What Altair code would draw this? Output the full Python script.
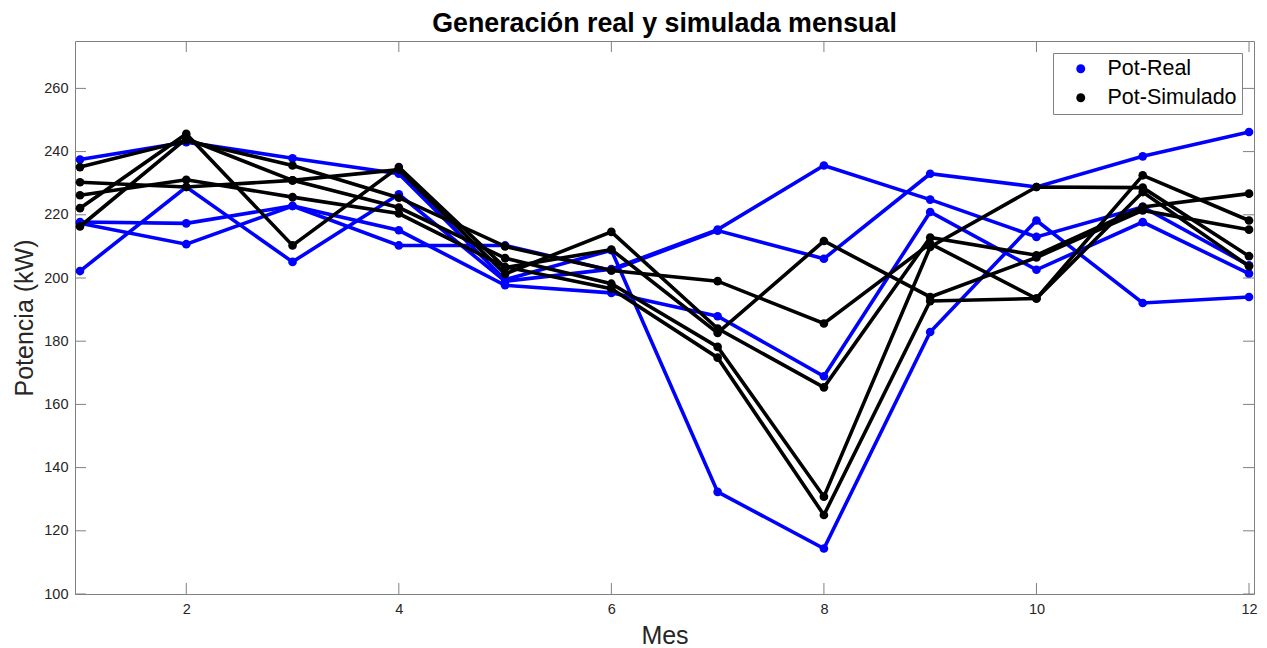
import altair as alt
import pandas as pd

# Meses del año
meses = list(range(1, 13))

# Potencia real medida (kW)
real_a = [217.3, 210.7, 222.8, 210.3, 210.3, 202.4, 215.0, 206.1, 233.0, 228.8, 238.5, 246.2]
real_b = [237.5, 243.0, 237.9, 233.0, 199.5, 208.8, 132.3, 114.4, 182.9, 218.2, 192.1, 194.0]
real_c = [202.2, 228.8, 205.1, 226.5, 199.0, 202.8, 215.3, 235.6, 224.8, 213.0, 222.5, 204.0]
real_d = [217.7, 217.3, 222.8, 215.1, 197.7, 195.3, 187.9, 168.9, 220.9, 202.6, 217.7, 201.4]

# Potencia simulada (kW)
sim_a = [235.1, 243.5, 235.6, 225.4, 210.0, 202.4, 199.0, 185.6, 210.9, 193.5, 232.5, 218.2]
sim_b = [230.3, 228.8, 230.9, 234.3, 201.3, 214.6, 184.0, 165.4, 212.8, 207.2, 222.5, 226.7]
sim_c = [226.2, 231.1, 225.6, 220.4, 203.5, 196.6, 174.8, 125.0, 192.7, 193.5, 227.2, 203.7]
sim_d = [222.1, 245.6, 210.3, 235.1, 203.3, 209.0, 182.6, 211.7, 194.0, 206.5, 221.4, 215.3]
sim_e = [216.3, 244.1, 230.9, 222.3, 206.3, 198.2, 178.2, 130.8, 209.8, 228.8, 228.6, 206.9]

# Marcas de los ejes
x_ticks = [2, 4, 6, 8, 10, 12]
y_ticks = [100, 120, 140, 160, 180, 200, 220, 240, 260]

tipos = ["Pot-Real", "Pot-Simulado"]
colores = ["#0000ff", "#000000"]

W, H = 1179, 553
FONT = "Liberation Sans"
AXIS_GRAY = "#808080"


def tabla(series, tipo):
    filas = []
    for nombre, valores in series:
        for m, v in zip(meses, valores):
            filas.append({"mes": m, "potencia": v, "tipo": tipo, "serie": nombre})
    return pd.DataFrame(filas)


df_real = tabla([("real_a", real_a), ("real_b", real_b),
                 ("real_c", real_c), ("real_d", real_d)], "Pot-Real")
df_sim = tabla([("sim_a", sim_a), ("sim_b", sim_b), ("sim_c", sim_c),
                ("sim_d", sim_d), ("sim_e", sim_e)], "Pot-Simulado")

x_scale = alt.Scale(domain=[0.953, 12.047], nice=False, zero=False)
y_scale = alt.Scale(domain=[100, 275], nice=False, zero=False)

x_enc = alt.X("mes:Q", scale=x_scale,
              axis=alt.Axis(values=x_ticks, title="Mes", labelPadding=8,
                            titlePadding=8))
y_enc = alt.Y("potencia:Q", scale=y_scale,
              axis=alt.Axis(values=y_ticks, title="Potencia (kW)",
                            labelPadding=7, titlePadding=6))

color_enc = alt.Color(
    "tipo:N",
    scale=alt.Scale(domain=tipos, range=colores),
    legend=alt.Legend(title=None, orient="top-right", symbolType="circle",
                      direction="vertical"),
)


def capa_lineas(df):
    return alt.Chart(df).mark_line(strokeWidth=3.6).encode(
        x=x_enc, y=y_enc, color=color_enc, detail="serie:N", order="mes:Q"
    )


def capa_puntos(df):
    return alt.Chart(df).mark_circle(size=75, opacity=1).encode(
        x=x_enc, y=y_enc, color=color_enc
    )


# Marcas interiores estilo "box on": abajo, arriba, izquierda y derecha
df_xt = pd.DataFrame({"mes": x_ticks})
df_yt = pd.DataFrame({"potencia": y_ticks})
tick_style = dict(color=AXIS_GRAY, strokeWidth=1)

ticks_abajo = alt.Chart(df_xt).mark_rule(**tick_style).encode(
    x=x_enc, y=alt.value(H), y2=alt.value(H - 11))
ticks_arriba = alt.Chart(df_xt).mark_rule(**tick_style).encode(
    x=x_enc, y=alt.value(0), y2=alt.value(11))
ticks_izq = alt.Chart(df_yt).mark_rule(**tick_style).encode(
    y=y_enc, x=alt.value(0), x2=alt.value(11))
ticks_der = alt.Chart(df_yt).mark_rule(**tick_style).encode(
    y=y_enc, x=alt.value(W), x2=alt.value(W - 11))

chart = alt.layer(
    capa_lineas(df_real),
    capa_puntos(df_real),
    capa_lineas(df_sim),
    capa_puntos(df_sim),
    ticks_abajo, ticks_arriba, ticks_izq, ticks_der,
).properties(
    width=W,
    height=H,
    title=alt.TitleParams("Generación real y simulada mensual", anchor="middle",
                          baseline="alphabetic", offset=9, dy=27),
    autosize=alt.AutoSizeParams(type="none"),
    padding={"left": 75, "top": 41, "right": 13, "bottom": 54},
).configure_view(
    stroke=AXIS_GRAY, strokeWidth=1
).configure_axis(
    labelFont=FONT, labelFontSize=14.5, labelColor="#262626",
    titleFont=FONT, titleFontSize=25, titleFontWeight="normal",
    titleColor="#262626", domain=False, ticks=False, grid=False,
).configure_legend(
    padding=5, offset=12, strokeColor=AXIS_GRAY, fillColor="white",
    labelFont=FONT, labelFontSize=21.5, labelColor="#000000", symbolSize=80,
    symbolOffset=12, labelOffset=16, rowPadding=6, symbolStrokeWidth=0,
).configure_title(
    font=FONT, fontSize=26.8, fontWeight="bold", color="#000000"
)

chart.save("out.html", embed_options={"renderer": "svg", "actions": False})
